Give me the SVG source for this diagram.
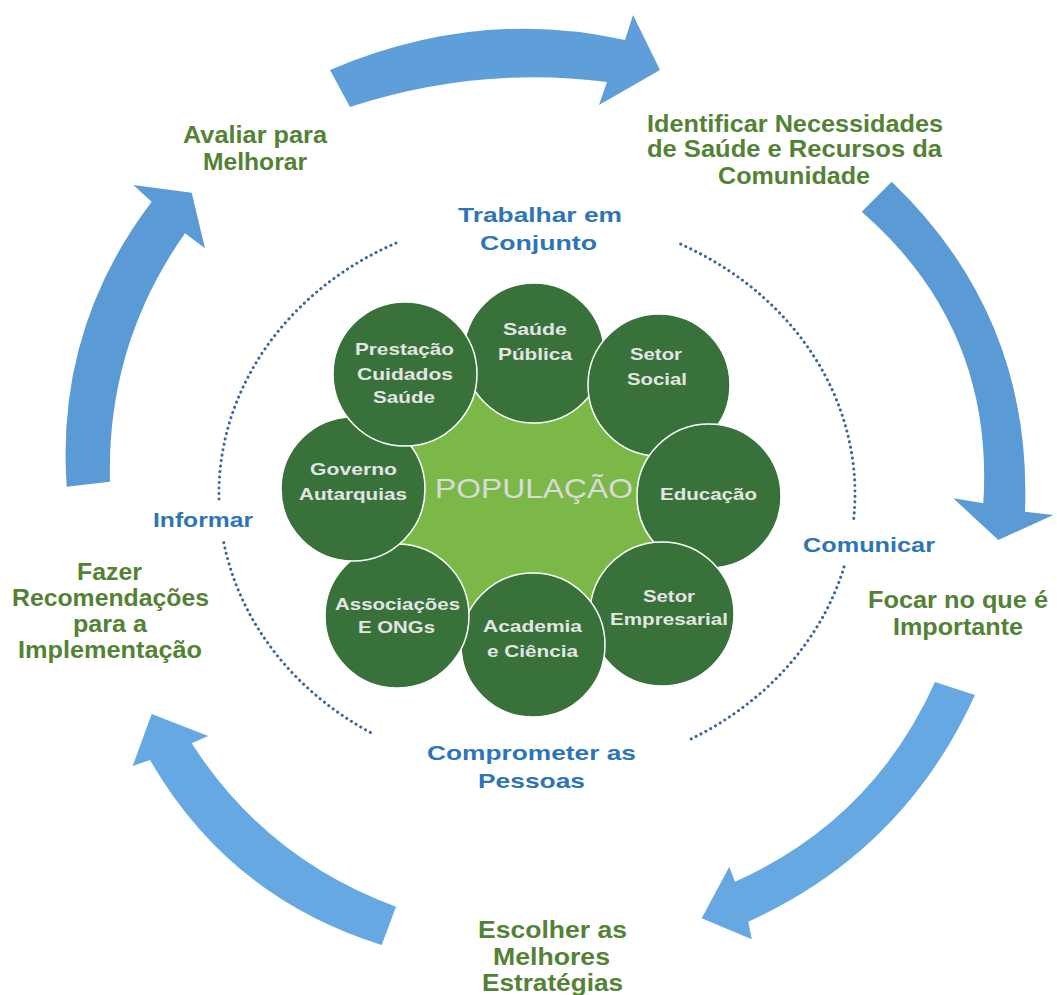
<svg xmlns="http://www.w3.org/2000/svg" width="1057" height="995" viewBox="0 0 1057 995">
<style>
.bg{fill:#ffffff}
.arrow{stroke:none}
.a1{fill:#5e9fd9}
.a2{fill:#5b9bd5}
.a3{fill:#66a8e2}
.dots{fill:none;stroke:#3a6698;stroke-width:3;stroke-linecap:round;stroke-dasharray:0.1 5.4}
.node{fill:#38723a;stroke:#ffffff;stroke-width:1.5}
.core{fill:#7cb848}
.ntext{font-family:"Liberation Sans",Arial,sans-serif;font-weight:bold;font-size:17px;fill:#e4e4e4}
.pop{font-family:"Liberation Sans",Arial,sans-serif;font-size:28px;fill:#dadada}
.green{font-family:"Liberation Sans",Arial,sans-serif;font-weight:bold;font-size:23px;fill:#548235}
.blue{font-family:"Liberation Sans",Arial,sans-serif;font-weight:bold;font-size:21px;fill:#2e75b6}
</style>
<rect class="bg" x="0" y="0" width="1057" height="995"/>

<g id="connectors">
  <path id="arrow-top" class="arrow a1" d="M 330,70 Q 478.5,7 625,40 L 633,15 L 660,70 L 599,105 L 607,82 Q 477.5,65.5 350,107 Z"/>
  <path id="arrow-right" class="arrow a2" d="M 891.7,181.7 Q 1032.5,316.7 1025,511.7 L 1053.3,515 L 998.3,540 L 953.3,498.3 L 983.3,503.3 Q 994.5,327.5 861.7,211.7 Z"/>
  <path id="arrow-bottom-right" class="arrow a3" d="M 975,695 Q 904,851 748.3,921.7 L 751.7,939.3 L 701.7,918.3 L 729.3,866.7 L 735,881.7 Q 873,820 935,682 Z"/>
  <path id="arrow-bottom-left" class="arrow a3" d="M 381.7,945 Q 229.6,897.8 150,760 L 132.7,766 L 151.7,714 L 208.3,736 L 191.7,743.3 Q 266.3,859.4 396,906.7 Z"/>
  <path id="arrow-left" class="arrow a2" d="M 66.7,486.7 Q 55.6,328.2 151.7,201.7 L 133.3,185 L 191.7,192.7 L 205,248.3 L 185,233.3 Q 106.3,345.1 110,481.7 Z"/>
  <path id="dots-top-left" class="dots" d="M 219,499 A 318 280 0 0 1 397.6,242.3"/>
  <path id="dots-bottom-left" class="dots" d="M 223.8,542.6 A 318 280 0 0 0 370.8,732.7"/>
  <path id="dots-bottom-right" class="dots" d="M 691.2,738.9 A 318 280 0 0 0 844.2,566.5"/>
  <path id="dots-top-right" class="dots" d="M 853.8,518.4 A 318 280 0 0 0 676.4,242.3"/>
</g>

<g id="populacao">
  <polygon class="core" points="596,369 684,441 686,555 598,630 465,631 375,553 379,432 470,363"/>
</g>

<g id="saude-publica">
  <circle class="node" cx="534" cy="353" r="70"/>
  <text class="ntext" x="503" y="335" textLength="64" lengthAdjust="spacingAndGlyphs">Saúde</text>
  <text class="ntext" x="498" y="360" textLength="74" lengthAdjust="spacingAndGlyphs">Pública</text>
</g>
<g id="setor-social">
  <circle class="node" cx="659" cy="385" r="71"/>
  <text class="ntext" x="630" y="360" textLength="52" lengthAdjust="spacingAndGlyphs">Setor</text>
  <text class="ntext" x="627" y="385" textLength="60" lengthAdjust="spacingAndGlyphs">Social</text>
</g>
<g id="educacao">
  <circle class="node" cx="709" cy="496" r="72"/>
  <text class="ntext" x="660" y="500" textLength="97" lengthAdjust="spacingAndGlyphs">Educação</text>
</g>
<g id="setor-empresarial">
  <circle class="node" cx="662" cy="614" r="72"/>
  <text class="ntext" x="643" y="602" textLength="52" lengthAdjust="spacingAndGlyphs">Setor</text>
  <text class="ntext" x="610" y="625" textLength="118" lengthAdjust="spacingAndGlyphs">Empresarial</text>
</g>
<g id="academia-ciencia">
  <circle class="node" cx="533" cy="645" r="72"/>
  <text class="ntext" x="483" y="632" textLength="99" lengthAdjust="spacingAndGlyphs">Academia</text>
  <text class="ntext" x="487" y="657" textLength="91" lengthAdjust="spacingAndGlyphs">e Ciência</text>
</g>
<g id="associacoes-ongs">
  <circle class="node" cx="397" cy="616" r="72"/>
  <text class="ntext" x="335" y="610" textLength="125" lengthAdjust="spacingAndGlyphs">Associações</text>
  <text class="ntext" x="358" y="633" textLength="77" lengthAdjust="spacingAndGlyphs">E ONGs</text>
</g>
<g id="governo-autarquias">
  <circle class="node" cx="353" cy="489" r="72"/>
  <text class="ntext" x="310" y="475" textLength="87" lengthAdjust="spacingAndGlyphs">Governo</text>
  <text class="ntext" x="299" y="500" textLength="108" lengthAdjust="spacingAndGlyphs">Autarquias</text>
</g>
<g id="prestacao-cuidados">
  <circle class="node" cx="405" cy="374" r="72"/>
  <text class="ntext" x="355" y="355" textLength="99" lengthAdjust="spacingAndGlyphs">Prestação</text>
  <text class="ntext" x="357" y="380" textLength="96" lengthAdjust="spacingAndGlyphs">Cuidados</text>
  <text class="ntext" x="373" y="403" textLength="62" lengthAdjust="spacingAndGlyphs">Saúde</text>
</g>
<g id="populacao-label">
  <text class="pop" x="435" y="498" textLength="198" lengthAdjust="spacingAndGlyphs">POPULAÇÃO</text>
</g>

<g id="step-avaliar">
  <text class="green" x="183" y="143" textLength="144" lengthAdjust="spacingAndGlyphs">Avaliar para</text>
  <text class="green" x="203" y="170" textLength="104" lengthAdjust="spacingAndGlyphs">Melhorar</text>
</g>
<g id="step-identificar">
  <text class="green" x="647" y="132" textLength="296" lengthAdjust="spacingAndGlyphs">Identificar Necessidades</text>
  <text class="green" x="647" y="157" textLength="295" lengthAdjust="spacingAndGlyphs">de Saúde e Recursos da</text>
  <text class="green" x="718" y="184" textLength="152" lengthAdjust="spacingAndGlyphs">Comunidade</text>
</g>
<g id="step-focar">
  <text class="green" x="868" y="608" textLength="180" lengthAdjust="spacingAndGlyphs">Focar no que é</text>
  <text class="green" x="893" y="635" textLength="130" lengthAdjust="spacingAndGlyphs">Importante</text>
</g>
<g id="step-escolher">
  <text class="green" x="478" y="938" textLength="149" lengthAdjust="spacingAndGlyphs">Escolher as</text>
  <text class="green" x="493" y="965" textLength="117" lengthAdjust="spacingAndGlyphs">Melhores</text>
  <text class="green" x="482" y="991" textLength="141" lengthAdjust="spacingAndGlyphs">Estratégias</text>
</g>
<g id="step-fazer">
  <text class="green" x="77" y="580" textLength="65" lengthAdjust="spacingAndGlyphs">Fazer</text>
  <text class="green" x="12" y="606" textLength="197" lengthAdjust="spacingAndGlyphs">Recomendações</text>
  <text class="green" x="73" y="632" textLength="74" lengthAdjust="spacingAndGlyphs">para a</text>
  <text class="green" x="18" y="658" textLength="184" lengthAdjust="spacingAndGlyphs">Implementação</text>
</g>

<g id="label-trabalhar">
  <text class="blue" x="458" y="222" textLength="164" lengthAdjust="spacingAndGlyphs">Trabalhar em</text>
  <text class="blue" x="480" y="250" textLength="117" lengthAdjust="spacingAndGlyphs">Conjunto</text>
</g>
<g id="label-informar">
  <text class="blue" x="153" y="527" textLength="100" lengthAdjust="spacingAndGlyphs">Informar</text>
</g>
<g id="label-comunicar">
  <text class="blue" x="803" y="552" textLength="132" lengthAdjust="spacingAndGlyphs">Comunicar</text>
</g>
<g id="label-comprometer">
  <text class="blue" x="427" y="760" textLength="209" lengthAdjust="spacingAndGlyphs">Comprometer as</text>
  <text class="blue" x="478" y="788" textLength="107" lengthAdjust="spacingAndGlyphs">Pessoas</text>
</g>
</svg>
